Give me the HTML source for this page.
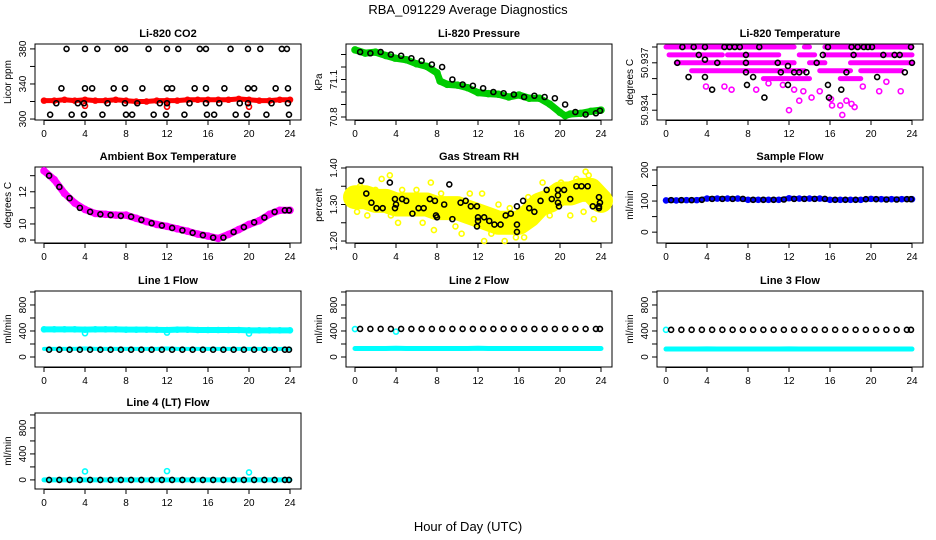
<!DOCTYPE html>
<html><head><meta charset="utf-8"><style>
html,body{margin:0;padding:0;background:#fff}
svg{display:block;font-family:"Liberation Sans",sans-serif}
</style></head><body>
<svg id="chart" width="936" height="540" viewBox="0 0 936 540" xmlns="http://www.w3.org/2000/svg">
<rect width="936" height="540" fill="#fff"/>
<text x="468" y="14" text-anchor="middle" font-size="13">RBA_091229  Average Diagnostics</text>
<text x="468" y="531" text-anchor="middle" font-size="13">Hour of Day (UTC)</text>
</svg>
<script>
// ---------- data ----------
const hours25 = [0,1,2,3,4,5,6,7,8,9,10,11,12,13,14,15,16,17,18,19,20,21,22,23,24];
const hoursBlack = [0.5,1.5,2.5,3.5,4.5,5.5,6.5,7.5,8.5,9.5,10.5,11.5,12.5,13.5,14.5,15.5,16.5,17.5,18.5,19.5,20.5,21.5,22.5,23.5,23.9];
const xTicks = [0,4,8,12,16,20,24];

const co2Red = [321,321,322,321,322,321,321,322,321,320,320,321,321,321,322,322,322,322,322,323,322,321,321,322,322];
const co2RedOut = [[4,315],[12,314],[20,314]];
const co2BlackX = [2.2,4.0,5.2,7.2,7.9,10.2,12.0,13.1,15.2,15.8,18.2,19.9,21.1,23.2,23.7,1.7,4.0,4.7,6.8,7.9,9.6,12.0,12.5,14.7,15.8,17.6,19.9,20.5,22.6,23.8,1.2,3.3,3.9,6.2,7.9,9.1,11.3,12.0,14.2,15.8,17.1,19.1,19.9,22.2,23.8,0.6,2.7,3.9,5.7,8.0,8.6,10.7,11.9,13.7,15.9,16.6,18.7,19.8,21.7,23.9];
const co2BlackY = [380,380,380,380,380,380,380,380,380,380,380,380,380,380,380,335,335,335,335,335,335,335,335,335,335,335,335,335,335,335,318,318,318,318,318,318,318,318,318,318,318,318,318,318,318,305,305,305,305,305,305,305,305,305,305,305,305,305,305,305];

const presX = [0,1,2,3,3.9,5,6,7,8,8.3,9,10,11,12,13,14,15,16,17,18,19,20,20.5,21,22,23,24];
const presGreen = [71.337,71.311,71.319,71.292,71.271,71.258,71.226,71.205,71.153,71.087,71.061,71.055,71.034,70.995,70.987,70.982,70.960,70.976,70.950,70.950,70.903,70.837,70.810,70.824,70.829,70.845,70.855];
const presBlack = [71.32,71.31,71.32,71.30,71.29,71.27,71.25,71.22,71.20,71.10,71.06,71.05,71.03,71.00,70.99,70.98,70.96,70.97,70.96,70.95,70.90,70.84,70.82,70.83,70.85];

const tempSegLevel = [50.938,50.938,50.938,50.9375,50.9375,50.9375,50.9375,50.937,50.937,50.937,50.9365,50.9365,50.9365,50.936,50.936];
const tempSegStart = [0,13.5,15.5,0.3,6,13,15.5,1,14,18,2.5,15,19,9.5,17];
const tempSegEnd = [12.5,14,24,5.5,11,14.5,24,12.5,15.5,24,13.5,18,23,14,19];
const tempMagX = [3.9,5.7,6.4,8.8,11.4,12.5,13.0,12.0,13.4,14.2,15.0,16.1,16.2,17.2,17.6,18.1,18.4,19.2,20.8,22.9,17.0,21.5,10.0];
const tempMagY = [50.9355,50.9355,50.9353,50.9353,50.9356,50.9353,50.9346,50.9340,50.9352,50.9348,50.9352,50.9347,50.9343,50.9337,50.9346,50.9344,50.9342,50.9355,50.9352,50.9352,50.9343,50.9358,50.9357];
const tempBlackX = [1.6,2.7,3.8,5.7,6.2,6.7,7.2,9.1,15.8,18.1,18.7,19.3,19.7,20.1,23.9,3.2,7.8,15.3,18.3,21.2,22.3,22.8,3.8,5.0,7.8,10.9,11.9,14.7,24,1.1,7.8,11.2,12.5,13.0,13.7,17.6,23.3,2.2,3.8,8.5,20.6,7.9,11.9,15.8,4.5,17.1,9.6,15.9];
const tempBlackY = [50.938,50.938,50.938,50.938,50.938,50.938,50.938,50.938,50.938,50.938,50.938,50.938,50.938,50.938,50.938,50.9375,50.9375,50.9375,50.9375,50.9375,50.9375,50.9375,50.9372,50.937,50.937,50.937,50.9368,50.937,50.937,50.937,50.9364,50.9364,50.9364,50.9364,50.9364,50.9364,50.9364,50.9361,50.9361,50.9361,50.9361,50.9356,50.9356,50.9356,50.9353,50.9353,50.9348,50.9348];

const ambMag = [13.3,12.75,11.9,11.3,10.9,10.65,10.6,10.55,10.55,10.35,10.15,9.97,9.85,9.7,9.55,9.37,9.25,9.1,9.35,9.65,9.97,10.2,10.6,10.85,10.85];
const ambBlack = [13.0,12.3,11.6,11.0,10.75,10.6,10.55,10.5,10.45,10.25,10.05,9.9,9.75,9.6,9.45,9.3,9.15,9.15,9.5,9.8,10.1,10.4,10.75,10.85,10.85];

const rhTrend = [1.32,1.32,1.31,1.31,1.30,1.30,1.30,1.30,1.29,1.29,1.29,1.28,1.27,1.26,1.25,1.25,1.25,1.27,1.30,1.31,1.33,1.33,1.34,1.34,1.31];
const rhYelX = [0.2,0.5,1.2,2.0,2.6,3.4,4.2,4.6,5.2,6.6,7.4,7.7,8.4,9.0,9.8,10.4,11.2,12.6,13.3,14.6,15.1,15.7,16.5,16.9,17.6,18.3,19.0,20.1,21.0,21.6,22.3,22.5,22.8,23.3,23.5,3.5,12.4,6.0,9.5,14.0];
const rhYelY = [1.28,1.35,1.27,1.34,1.37,1.38,1.25,1.34,1.28,1.25,1.36,1.23,1.33,1.27,1.24,1.22,1.33,1.20,1.22,1.20,1.29,1.21,1.21,1.32,1.27,1.36,1.27,1.36,1.27,1.37,1.28,1.39,1.38,1.26,1.34,1.27,1.33,1.34,1.31,1.30];
const rhBlackX = [0.6,1.1,1.6,2.1,2.7,3.4,3.9,3.9,4.0,4.6,5.0,5.6,6.2,6.7,7.3,7.8,7.9,8.0,8.7,9.2,9.5,10.3,10.8,11.3,11.9,11.9,12.0,12.0,12.6,13.1,13.6,14.2,14.7,15.2,15.8,15.8,15.8,16.4,17.0,17.5,18.1,18.7,19.2,19.8,19.8,19.8,19.9,20.4,21.0,21.6,22.1,22.7,23.2,23.8,23.8,23.9,23.8];
const rhBlackY = [1.365,1.33,1.305,1.29,1.29,1.36,1.315,1.29,1.30,1.315,1.31,1.275,1.29,1.29,1.315,1.31,1.27,1.265,1.30,1.355,1.26,1.305,1.31,1.295,1.295,1.24,1.255,1.265,1.265,1.255,1.245,1.245,1.27,1.275,1.295,1.245,1.225,1.31,1.29,1.28,1.31,1.34,1.315,1.34,1.325,1.305,1.295,1.34,1.315,1.35,1.35,1.35,1.295,1.295,1.32,1.305,1.29];

const sampleBlue = [102,102,103,103,108,108,108,108,104,104,104,104,109,108,108,108,104,104,104,104,107,106,106,106,106];
const sampleBlack = [103,103,103,104,107,107,107,107,104,104,104,105,107,107,107,107,104,104,104,106,106,105,105,106,106];

const l1Top = [425,425,425,425,420,425,425,425,420,420,420,418,415,420,420,415,415,415,415,415,410,410,410,410,410];
const l1TopOut = [[4,365],[12,375],[20,360]];
const l1Low = [125,125,125,125,130,125,125,125,125,125,125,125,130,125,125,125,125,125,125,125,125,125,125,125,125];
const l1Black = [112,112,112,112,112,112,112,112,112,112,112,112,112,112,112,112,112,112,112,112,112,112,112,112,112];
const l2Black = [432,432,432,432,432,432,432,432,432,432,432,432,432,432,432,432,432,432,432,432,432,432,432,432,432];
const l2Cyan = [130,130,130,130,135,130,130,130,130,130,130,130,135,130,130,130,130,130,130,130,130,130,130,130,130];
const l2CyanOut = [[0,430],[4,390]];
const l3Black = [418,418,418,418,418,418,418,418,418,418,418,418,418,418,418,418,418,418,418,418,418,418,418,418,418];
const l3Cyan = [122,122,122,122,125,122,122,122,122,122,122,122,125,122,122,122,122,122,122,122,122,122,122,122,122];
const l3CyanOut = [[0,418]];
const l4Cyan = [0,0,0,0,0,0,0,0,0,0,0,0,0,0,0,0,0,0,0,0,0,0,0,0,0];
const l4CyanOut = [[4,130],[12,135],[20,115]];
const l4Black = [0,0,0,0,0,0,0,0,0,0,0,0,0,0,0,0,0,0,0,0,0,0,0,0,0];

// ---------- drawing ----------
const svg = document.getElementById('chart');
const NS = 'http://www.w3.org/2000/svg';
function mk(tag, attrs, parent){const e=document.createElementNS(NS,tag);for(const k in attrs)e.setAttribute(k,attrs[k]);(parent||svg).appendChild(e);return e;}

const colLeft=[35,346,657], rowTop=[44,167,291,413], BW=266, BH=76;

function makePanel(name,col,row,title,ylab,ymin,ymax,ticks,labels){
  const g=mk('g',{});
  
  
  const L=colLeft[col],T=rowTop[row];
  const X0=L+9,X1=L+255;
  const p={g,L,T,
    x:h=>X0+(X1-X0)*h/24,
    y:v=>T+BH-(v-ymin)/(ymax-ymin)*BH};
  mk('rect',{x:L,y:T,width:BW,height:BH,fill:'none',stroke:'#000','stroke-width':1},g);
  const t=mk('text',{x:L+BW/2,y:T-7,'text-anchor':'middle','font-size':11,'font-weight':'bold'},g);
  t.textContent=title;
  
  
  xTicks.forEach(h=>{
    const xx=p.x(h);
    mk('line',{x1:xx,x2:xx,y1:T+BH,y2:T+BH+5,stroke:'#000'},g);
    const tl=mk('text',{x:xx,y:T+BH+17,'text-anchor':'middle','font-size':10},g);
    tl.textContent=h;
    
    
  });
  mk('line',{x1:p.x(0),x2:p.x(24),y1:T+BH+0.5,y2:T+BH+0.5,stroke:'#000'},g);
  ticks.forEach(v=>{
    const yy=p.y(v);
    mk('line',{x1:L-5,x2:L,y1:yy,y2:yy,stroke:'#000'},g);
  });
  labels.forEach(v=>{
    const yy=p.y(v);
    const tl=mk('text',{x:L-9,y:yy,'text-anchor':'middle','font-size':10,transform:`rotate(-90 ${L-9} ${yy})`},g);
    tl.textContent=v;
    
    
  });
  const yl=mk('text',{x:L-24,y:T+BH/2,'text-anchor':'middle','font-size':10,transform:`rotate(-90 ${L-24} ${T+BH/2})`},g);
  yl.textContent=ylab;
  
  
  return p;
}
function band(p,xs,ys,color,w){
  const pts=xs.map((h,i)=>p.x(h)+','+p.y(ys[i])).join(' ');
  const pl=mk('polyline',{points:pts,fill:'none',stroke:color,'stroke-width':w,'stroke-linejoin':'round','stroke-linecap':'round'},p.g);
  
  
}
function pts(p,xs,ys,color,r){
  xs.forEach((h,i)=>{
    const c=mk('circle',{cx:p.x(h),cy:p.y(ys[i]),r:r||2.5,fill:'none',stroke:color,'stroke-width':1.6},p.g);
    
    
  });
}
function ptsPairs(p,pairs,color){pts(p,pairs.map(a=>a[0]),pairs.map(a=>a[1]),color);}

// CO2
let p=makePanel('co2',0,0,'Li-820 CO2','Licor ppm',298.9,385.6,[300,320,340,360,380],[300,340,380]);
band(p,hours25,co2Red,'#ff0000',5); pts(p,hours25,co2Red,'#ff0000'); ptsPairs(p,co2RedOut,'#ff0000');
pts(p,co2BlackX,co2BlackY,'#000');
// Pressure
p=makePanel('pressure',1,0,'Li-820 Pressure','kPa',70.776,71.384,[70.8,70.9,71.0,71.1,71.2,71.3],[70.8,71.1]);
band(p,presX,presGreen,'#00cc00',7); pts(p,presX,presGreen,'#00cc00',3);
pts(p,hoursBlack,presBlack,'#000');
// Temperature
p=makePanel('li820-temp',2,0,'Li-820 Temperature','degrees C',50.93338,50.93819,[50.934,50.935,50.936,50.937,50.938],[50.934,50.937]);
tempSegLevel.forEach((lv,i)=>{
  const ln=mk('line',{x1:p.x(tempSegStart[i]),x2:p.x(tempSegEnd[i]),y1:p.y(lv),y2:p.y(lv),stroke:'#ff00ff','stroke-width':5,'stroke-linecap':'round'},p.g);
  
  
});
pts(p,tempMagX,tempMagY,'#ff00ff');
pts(p,tempBlackX,tempBlackY,'#000');
// Ambient
p=makePanel('ambient-temp',0,1,'Ambient Box Temperature','degrees C',8.816,13.54,[9,10,11,12,13],[9,10,12]);
band(p,hours25,ambMag,'#ff00ff',7); pts(p,hours25,ambMag,'#ff00ff',3);
pts(p,hoursBlack,ambBlack,'#000');
// RH
p=makePanel('gas-rh',1,1,'Gas Stream RH','percent',1.1946,1.4027,[1.20,1.25,1.30,1.35,1.40],['1.20','1.30','1.40']);
band(p,hours25,rhTrend,'#ffff00',24);
pts(p,rhYelX,rhYelY,'#ffff00');
pts(p,rhBlackX,rhBlackY,'#000');
// Sample flow
p=makePanel('sample-flow',2,1,'Sample Flow','ml/min',-34.9,209.5,[0,50,100,150,200],[0,100,200]);
band(p,hours25,sampleBlue,'#0000ff',5); pts(p,hours25,sampleBlue,'#0000ff');
pts(p,hoursBlack,sampleBlack,'#000');
// Lines
const fT=[0,200,400,600,800,1000], fL=[0,400,800];
p=makePanel('line1-flow',0,2,'Line 1 Flow','ml/min',-154,1015,fT,fL);
band(p,hours25,l1Top,'#00ffff',6); pts(p,hours25,l1Top,'#00ffff'); ptsPairs(p,l1TopOut,'#00ffff');
band(p,hours25,l1Low,'#00ffff',4); pts(p,hoursBlack,l1Black,'#000');
p=makePanel('line2-flow',1,2,'Line 2 Flow','ml/min',-154,1015,fT,fL);
band(p,hours25,l2Cyan,'#00ffff',5); ptsPairs(p,l2CyanOut,'#00ffff'); pts(p,hoursBlack,l2Black,'#000');
p=makePanel('line3-flow',2,2,'Line 3 Flow','ml/min',-154,1015,fT,fL);
band(p,hours25,l3Cyan,'#00ffff',5); ptsPairs(p,l3CyanOut,'#00ffff'); pts(p,hoursBlack,l3Black,'#000');
p=makePanel('line4-flow',0,3,'Line 4 (LT) Flow','ml/min',-140,1030,fT,fL);
band(p,hours25,l4Cyan,'#00ffff',5); ptsPairs(p,l4CyanOut,'#00ffff'); pts(p,hoursBlack,l4Black,'#000');
</script>
</body></html>
